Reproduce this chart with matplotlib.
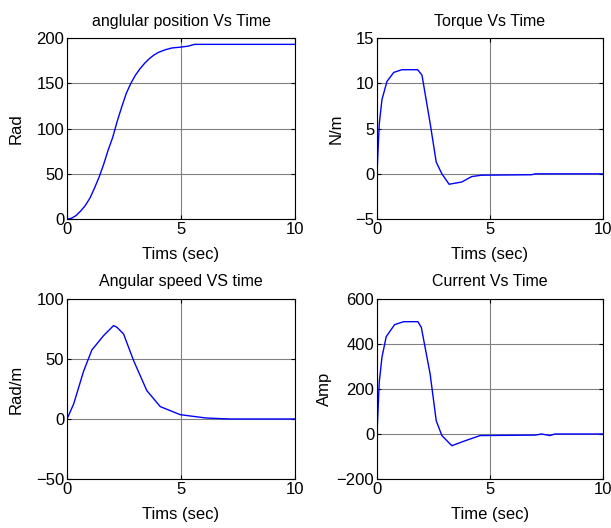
import matplotlib
matplotlib.use("Agg")
from matplotlib import pyplot as plt

plt.rcParams['font.family'] = ['Liberation Sans', 'DejaVu Sans']

# angular position
t_pos = [0, 0.2, 0.4, 0.6, 0.8, 1.0, 1.2, 1.4, 1.6, 1.8, 2.0, 2.2, 2.4, 2.6, 2.8,
         3.0, 3.2, 3.4, 3.6, 3.8, 4.0, 4.3, 4.6, 5.0, 5.3, 5.6, 10]
pos = [0, 1, 4, 9, 15, 23, 34, 46, 60, 76, 90, 108, 124, 139, 150,
       159, 166, 172, 177, 181, 184, 187, 189, 190, 191, 193, 193]

# torque
t_torque = [0, 0.1, 0.22, 0.44, 0.74, 1.1, 1.8, 1.99, 2.35, 2.62, 2.87, 3.19,
            3.75, 4.19, 4.63, 6.84, 7.0, 10]
torque = [0, 5.5, 8.2, 10.2, 11.2, 11.5, 11.5, 10.9, 5.6, 1.3, 0, -1.15,
          -0.9, -0.3, -0.15, -0.1, 0, 0]

# angular speed
t_speed = [0, 0.29, 0.73, 1.09, 1.6, 2.04, 2.19, 2.48, 2.92, 3.5, 4.09, 4.96,
           6.1, 7.15, 10]
speed = [0, 12.5, 40, 57.5, 69.4, 77.8, 76.4, 70.8, 48.6, 23.6, 10.3, 3.6,
         0.8, 0, 0]

# current
t_cur = [0, 0.1, 0.22, 0.41, 0.78, 1.18, 1.81, 1.96, 2.35, 2.62, 2.87, 3.31,
         3.9, 4.56, 6.99, 7.28, 7.65, 7.87, 10]
cur = [0, 230, 341, 433, 486, 499, 499, 474, 267, 59, -7, -52,
       -30, -7, -5, 0, -7, 0, 0]

fig = plt.figure(figsize=(6.11, 5.28), dpi=100)

panels = [
    ([0.1097, 0.585, 0.3732, 0.343], t_pos, pos, "anglular position Vs Time", "Tims (sec)", "Rad", (0, 200), [0, 50, 100, 150, 200], 9),
    ([0.617, 0.585, 0.370, 0.343], t_torque, torque, "Torque Vs Time", "Tims (sec)", "N/m", (-5, 15), [-5, 0, 5, 10, 15], 8),
    ([0.1097, 0.0928, 0.3732, 0.341], t_speed, speed, "Angular speed VS time", "Tims (sec)", "Rad/m", (-50, 100), [-50, 0, 50, 100], 9),
    ([0.617, 0.0928, 0.370, 0.341], t_cur, cur, "Current Vs Time", "Time (sec)", "Amp", (-200, 600), [-200, 0, 200, 400, 600], 3),
]

for rect, x, y, title, xlab, ylab, ylim, yticks, ypad in panels:
    ax = fig.add_axes(rect)
    ax.plot(x, y, color='#0000ff', lw=1)
    ax.set_xlim(0, 10)
    ax.set_ylim(*ylim)
    ax.set_xticks([0, 5, 10])
    ax.set_yticks(yticks)
    ax.grid(True, color='#808080', lw=0.8)
    ax.tick_params(direction='in', top=True, right=True, length=3, labelsize=12, pad=2)
    ax.set_title(title, fontsize=11.5, pad=9)
    ax.set_xlabel(xlab, fontsize=12, labelpad=7)
    ax.set_ylabel(ylab, fontsize=12, labelpad=ypad)

fig.savefig("out.png", dpi=100)
